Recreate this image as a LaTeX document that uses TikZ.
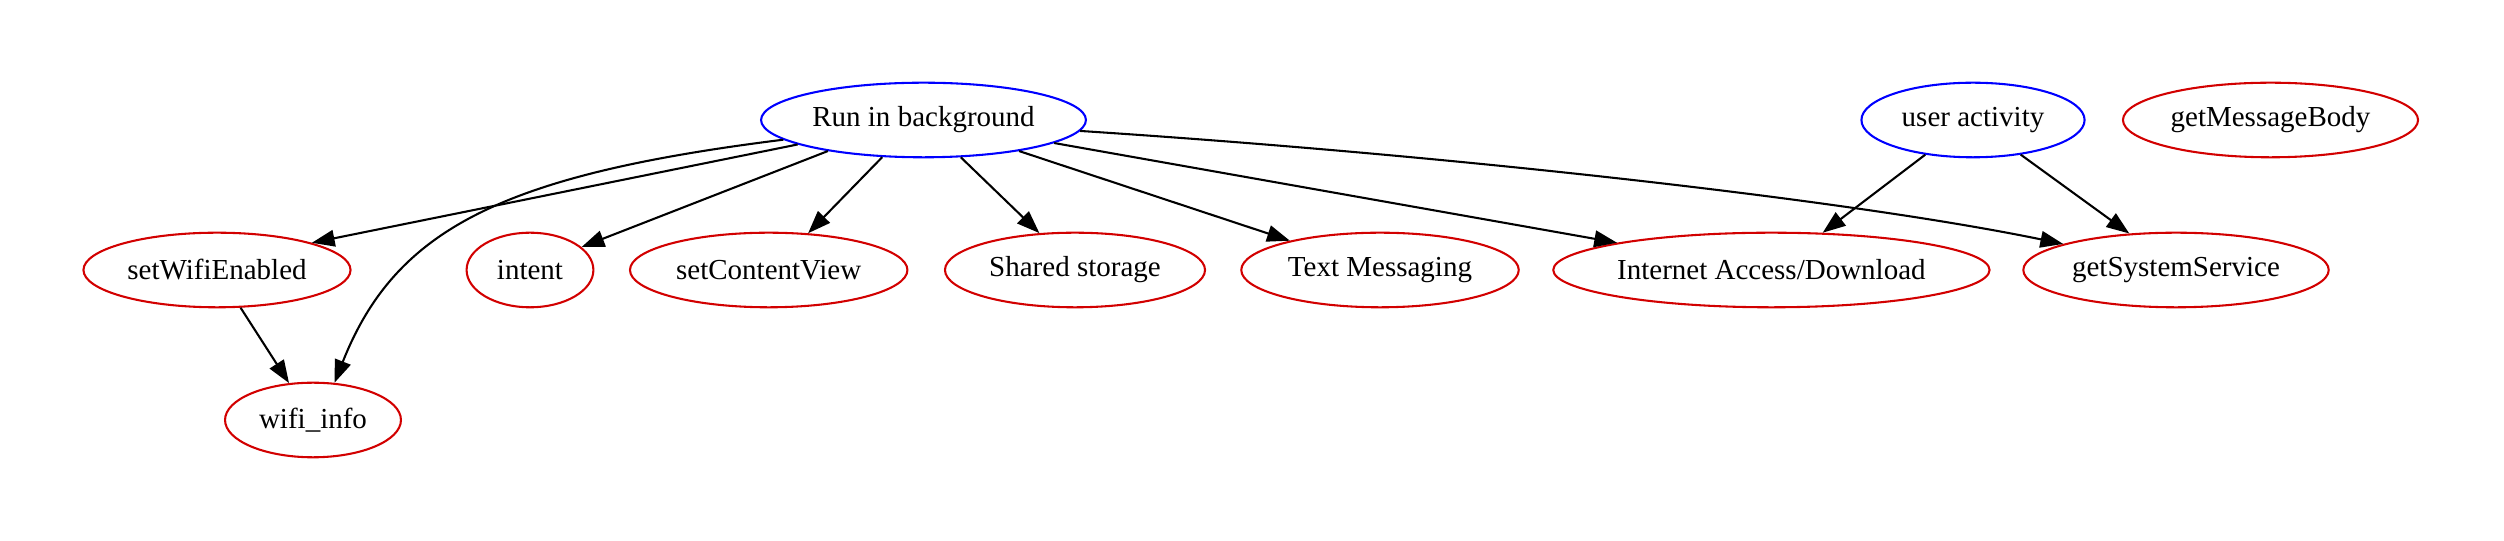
\documentclass[tikz,border=0pt]{standalone}
\usepackage{fontspec}
\setmainfont{Liberation Serif}
\usetikzlibrary{shapes.geometric,arrows.meta}
\definecolor{nred}{RGB}{210,0,0}
\definecolor{nblue}{RGB}{0,0,255}
\tikzset{
  gv/.style={ellipse, draw, line width=1pt, inner sep=0pt, minimum height=36pt, font=\fontsize{14pt}{16pt}\selectfont},
  src/.style={gv, draw=nblue},
  tgt/.style={gv, draw=nred},
  arr/.style={line width=1pt, -{Triangle[length=11pt,width=8pt]}}
}
\begin{document}
\begin{tikzpicture}[x=0.4826pt, y=-0.4826pt]
\useasboundingbox (0,0) rectangle (2504,541);
\node[src, minimum width=156.8pt] (run) at (923.5,120) {Run in background};
\node[src, minimum width=107.7pt] (user) at (1973,120) {user activity};
\node[tgt, minimum width=142.4pt] (gmb) at (2270.5,120) {getMessageBody};
\node[tgt, minimum width=128.9pt] (swe) at (217,270) {setWifiEnabled};
\node[tgt, minimum width=61.2pt] (intent) at (530,270) {intent};
\node[tgt, minimum width=133.9pt] (scv) at (768.7,270) {setContentView};
\node[tgt, minimum width=125.5pt] (shared) at (1075,270) {Shared storage};
\node[tgt, minimum width=133.9pt] (text) at (1380,270) {Text Messaging};
\node[tgt, minimum width=208.5pt] (inet) at (1771.4,270) {Internet Access/Download};
\node[tgt, minimum width=147.4pt] (gss) at (2176,270) {getSystemService};
\node[tgt, minimum width=84.9pt] (wifi) at (313,420) {wifi\_info};

\draw[arr] (run.191) -- (swe.16);
\draw[arr] (run.188.8) .. controls (500,175) and (395,230) .. (wifi.60);
\draw[arr] (run.198.5) -- (intent.24);
\draw[arr] (run.222.4) -- (scv.43);
\draw[arr] (run.315) -- (shared.134);
\draw[arr] (run.342) -- (text.162.5);
\draw[arr] (run.350) -- (inet.170.6);
\draw[arr] (run.356) .. controls (1450,155) and (1850,200) .. (gss.167);
\draw[arr] (user.216.7) -- (inet.36);
\draw[arr] (user.324) -- (gss.142.8);
\draw[arr] (swe.302.4) -- (wifi.123);
\end{tikzpicture}
\end{document}
